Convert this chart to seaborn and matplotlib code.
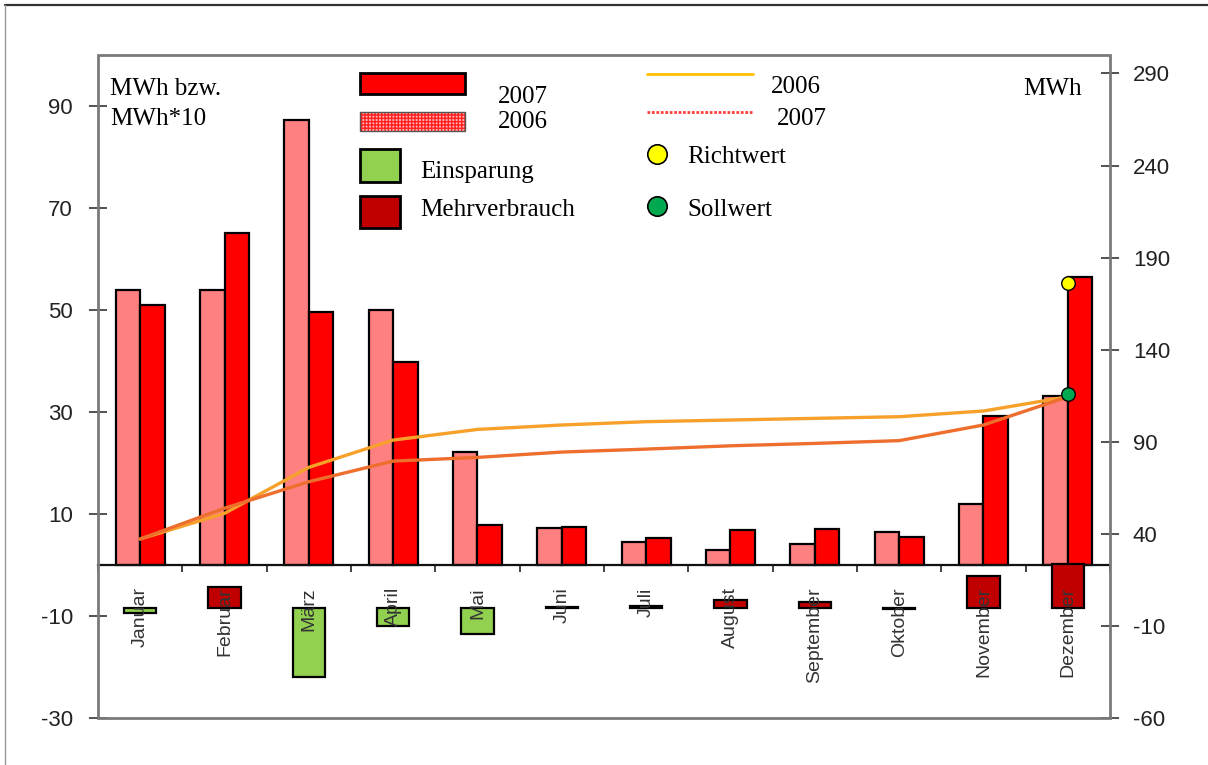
import numpy as np
import pandas as pd
import matplotlib
matplotlib.use("Agg")
import matplotlib.pyplot as plt
import matplotlib.transforms as mtransforms
import seaborn as sns
from matplotlib.patches import Rectangle
from matplotlib.lines import Line2D

# Monthly consumption (MWh bzw. MWh*10), left axis
months = ["Januar", "Februar", "März", "April", "Mai", "Juni", "Juli",
          "August", "September", "Oktober", "November", "Dezember"]
verbrauch_2006 = [54.0, 54.0, 87.3, 50.0, 22.2, 7.3, 4.5, 2.9, 4.1, 6.5, 12.0, 33.1]
verbrauch_2007 = [51.0, 65.0, 49.6, 39.8, 7.8, 7.5, 5.3, 6.9, 7.1, 5.5, 29.2, 56.5]

# Running curves (MWh), right axis
linie_2006 = [37.2, 51.1, 76.1, 90.9, 96.7, 99.1, 100.9, 101.8, 102.7, 103.6, 106.7, 114.4]
linie_2007 = [37.2, 53.9, 68.3, 79.5, 81.5, 84.4, 86.0, 87.8, 89.1, 90.6, 99.1, 114.4]

# Target values for December (MWh), right axis
richtwert = 176
sollwert = 116

left_ticks = [-30, -10, 10, 30, 50, 70, 90]
right_ticks = [-60, -10, 40, 90, 140, 190, 240, 290]

W, H = 1208, 765
sns.set_theme(style="white")
plt.rcParams["font.family"] = ["Liberation Sans", "DejaVu Sans"]
plt.rcParams["axes.unicode_minus"] = False
SERIF = ["Liberation Serif", "DejaVu Serif"]

fig = plt.figure(figsize=(W / 100, H / 100), dpi=100)
fig.patch.set_facecolor("white")
ax = fig.add_axes([98 / W, (H - 718) / H, (1110 - 98) / W, (718 - 55) / H])
ax2 = ax.twinx()

# Difference 2007 - 2006 (savings green, extra consumption dark red)
diff = np.array(verbrauch_2007) - np.array(verbrauch_2006)
ddf = pd.DataFrame({
    "Monat": months,
    "Diff": diff,
    "Art": np.where(diff < 0, "Einsparung", "Mehrverbrauch"),
})
sns.barplot(data=ddf, x="Monat", y="Diff", hue="Art", order=months,
            palette={"Einsparung": "#92D050", "Mehrverbrauch": "#C00000"},
            dodge=False, width=0.38, edgecolor="black", linewidth=1.6,
            saturation=1, legend=False, errorbar=None, ax=ax2)

# Curves
xpos = np.arange(len(months))
sns.lineplot(x=xpos, y=linie_2006, color="#F7A02A", linewidth=2.4,
             sort=False, ax=ax2, zorder=4)
sns.lineplot(x=xpos, y=linie_2007, color="#EE6E2E", linewidth=2.4,
             sort=False, ax=ax2, zorder=4)

# Richtwert / Sollwert
sns.scatterplot(x=[xpos[-1]], y=[richtwert], color="#FFFF00", s=95,
                edgecolor="black", linewidth=1, ax=ax2, zorder=6, legend=False)
sns.scatterplot(x=[xpos[-1]], y=[sollwert], color="#00A850", s=95,
                edgecolor="black", linewidth=1, ax=ax2, zorder=6, legend=False)

# Monthly bars 2006 / 2007
df = pd.DataFrame({
    "Monat": months * 2,
    "Jahr": ["2006"] * len(months) + ["2007"] * len(months),
    "MWh": verbrauch_2006 + verbrauch_2007,
})
sns.barplot(data=df, x="Monat", y="MWh", hue="Jahr", order=months,
            hue_order=["2006", "2007"],
            palette={"2006": "#FF8080", "2007": "#FF0000"},
            width=0.58, gap=0, edgecolor="black", linewidth=1.6,
            saturation=1, legend=False, errorbar=None, ax=ax)

# Axes limits and ticks
ax.set_xlim(-0.5, len(months) - 0.5)
ax.set_ylim(-30, 100)
ax2.set_ylim(-60, 300)
ax.set_yticks(left_ticks)
ax2.set_yticks(right_ticks)
ax.set_xlabel("")
ax.set_ylabel("")
ax2.set_ylabel("")
ax.set_xticks(xpos)
ax.set_xticks(np.arange(-0.5, len(months), 1.0), minor=True)
ax.tick_params(axis="x", which="major", length=0, labelbottom=False)
ax.tick_params(axis="x", which="minor", direction="out", length=5,
               width=1.2, color="#222222", bottom=True)
ax.tick_params(axis="y", direction="inout", length=13, width=1.2,
               color="#333333", labelsize=16, labelcolor="#222222", pad=11.5,
               left=True)
ax2.tick_params(axis="y", direction="inout", length=13, width=1.2,
                color="#333333", labelsize=16, labelcolor="#222222", pad=10,
                right=True)
ax.grid(False)
ax2.grid(False)

# Month names below the zero line, drawn above the difference bars
offset = mtransforms.ScaledTranslation(0, -16 / 72, fig.dpi_scale_trans)
for i, m in enumerate(months):
    ax2.text(i, 0, m, transform=ax.transData + offset, rotation=90,
             ha="center", va="top", fontsize=14, color="#333333", zorder=20)

# Category axis at zero, frame around the plot area
for s in ["left", "right", "top"]:
    ax.spines[s].set_visible(False)
for s in ax2.spines.values():
    s.set_visible(False)
ax.spines["bottom"].set_position(("data", 0))
ax.spines["bottom"].set_color("#111111")
ax.spines["bottom"].set_linewidth(1.6)
ax.spines["bottom"].set_zorder(5)
ax2.add_patch(Rectangle((0, 0), 1, 1, transform=ax2.transAxes, fill=False,
                        edgecolor="#7a7a7a", linewidth=2, clip_on=False,
                        zorder=10))


# Legend and annotations in pixel coordinates
def fx(x):
    return x / W


def fy(y):
    return 1 - y / H


def box(x0, y0, x1, y1, **kw):
    fig.add_artist(Rectangle((fx(x0), fy(y1)), fx(x1) - fx(x0), fy(y0) - fy(y1),
                             transform=fig.transFigure, **kw))


def label(x, y, s, **kw):
    fig.text(fx(x), fy(y), s, family=SERIF, fontsize=18, va="baseline",
             color="black", **kw)


label(110, 95, "MWh bzw.")
label(110, 125, "MWh*10")
label(1023, 95, "MWh")

box(360, 73, 465, 94, facecolor="#FF0000", edgecolor="black", linewidth=2)
label(498, 103, "2007")
box(360, 112, 465, 131, facecolor="#FFB0B0", edgecolor="#FF2020",
    hatch="+++++", linewidth=0)
box(360, 112, 465, 131, fill=False, edgecolor="#555555", linewidth=1)
label(498, 128, "2006")
box(360, 149, 400, 182, facecolor="#92D050", edgecolor="black", linewidth=2)
label(420, 178, "Einsparung")
box(360, 196, 400, 228, facecolor="#C00000", edgecolor="black", linewidth=2)
label(420, 216, "Mehrverbrauch")

fig.add_artist(Line2D([fx(647), fx(753)], [fy(74), fy(74)], color="#FFC000",
                      linewidth=2, transform=fig.transFigure))
label(771, 93, "2006")
fig.add_artist(Line2D([fx(647), fx(753)], [fy(112), fy(112)], color="#FF4040",
                      linewidth=2, linestyle=(0, (1, 0.6)),
                      transform=fig.transFigure))
label(777, 125, "2007")
fig.add_artist(Line2D([fx(657)], [fy(154)], marker="o", markersize=14,
                      markerfacecolor="#FFFF00", markeredgecolor="black",
                      markeredgewidth=1.2, linestyle="none",
                      transform=fig.transFigure))
label(687, 163, "Richtwert")
fig.add_artist(Line2D([fx(657)], [fy(206)], marker="o", markersize=14,
                      markerfacecolor="#00A850", markeredgecolor="black",
                      markeredgewidth=1.2, linestyle="none",
                      transform=fig.transFigure))
label(687, 216, "Sollwert")

# Outer border
fig.add_artist(Line2D([fx(5), fx(W)], [fy(5), fy(5)], color="#333333",
                      linewidth=1.6, transform=fig.transFigure))
fig.add_artist(Line2D([fx(5), fx(5)], [fy(5), fy(H)], color="#999999",
                      linewidth=1, transform=fig.transFigure))

fig.savefig("out.png", dpi=100, facecolor="white")
